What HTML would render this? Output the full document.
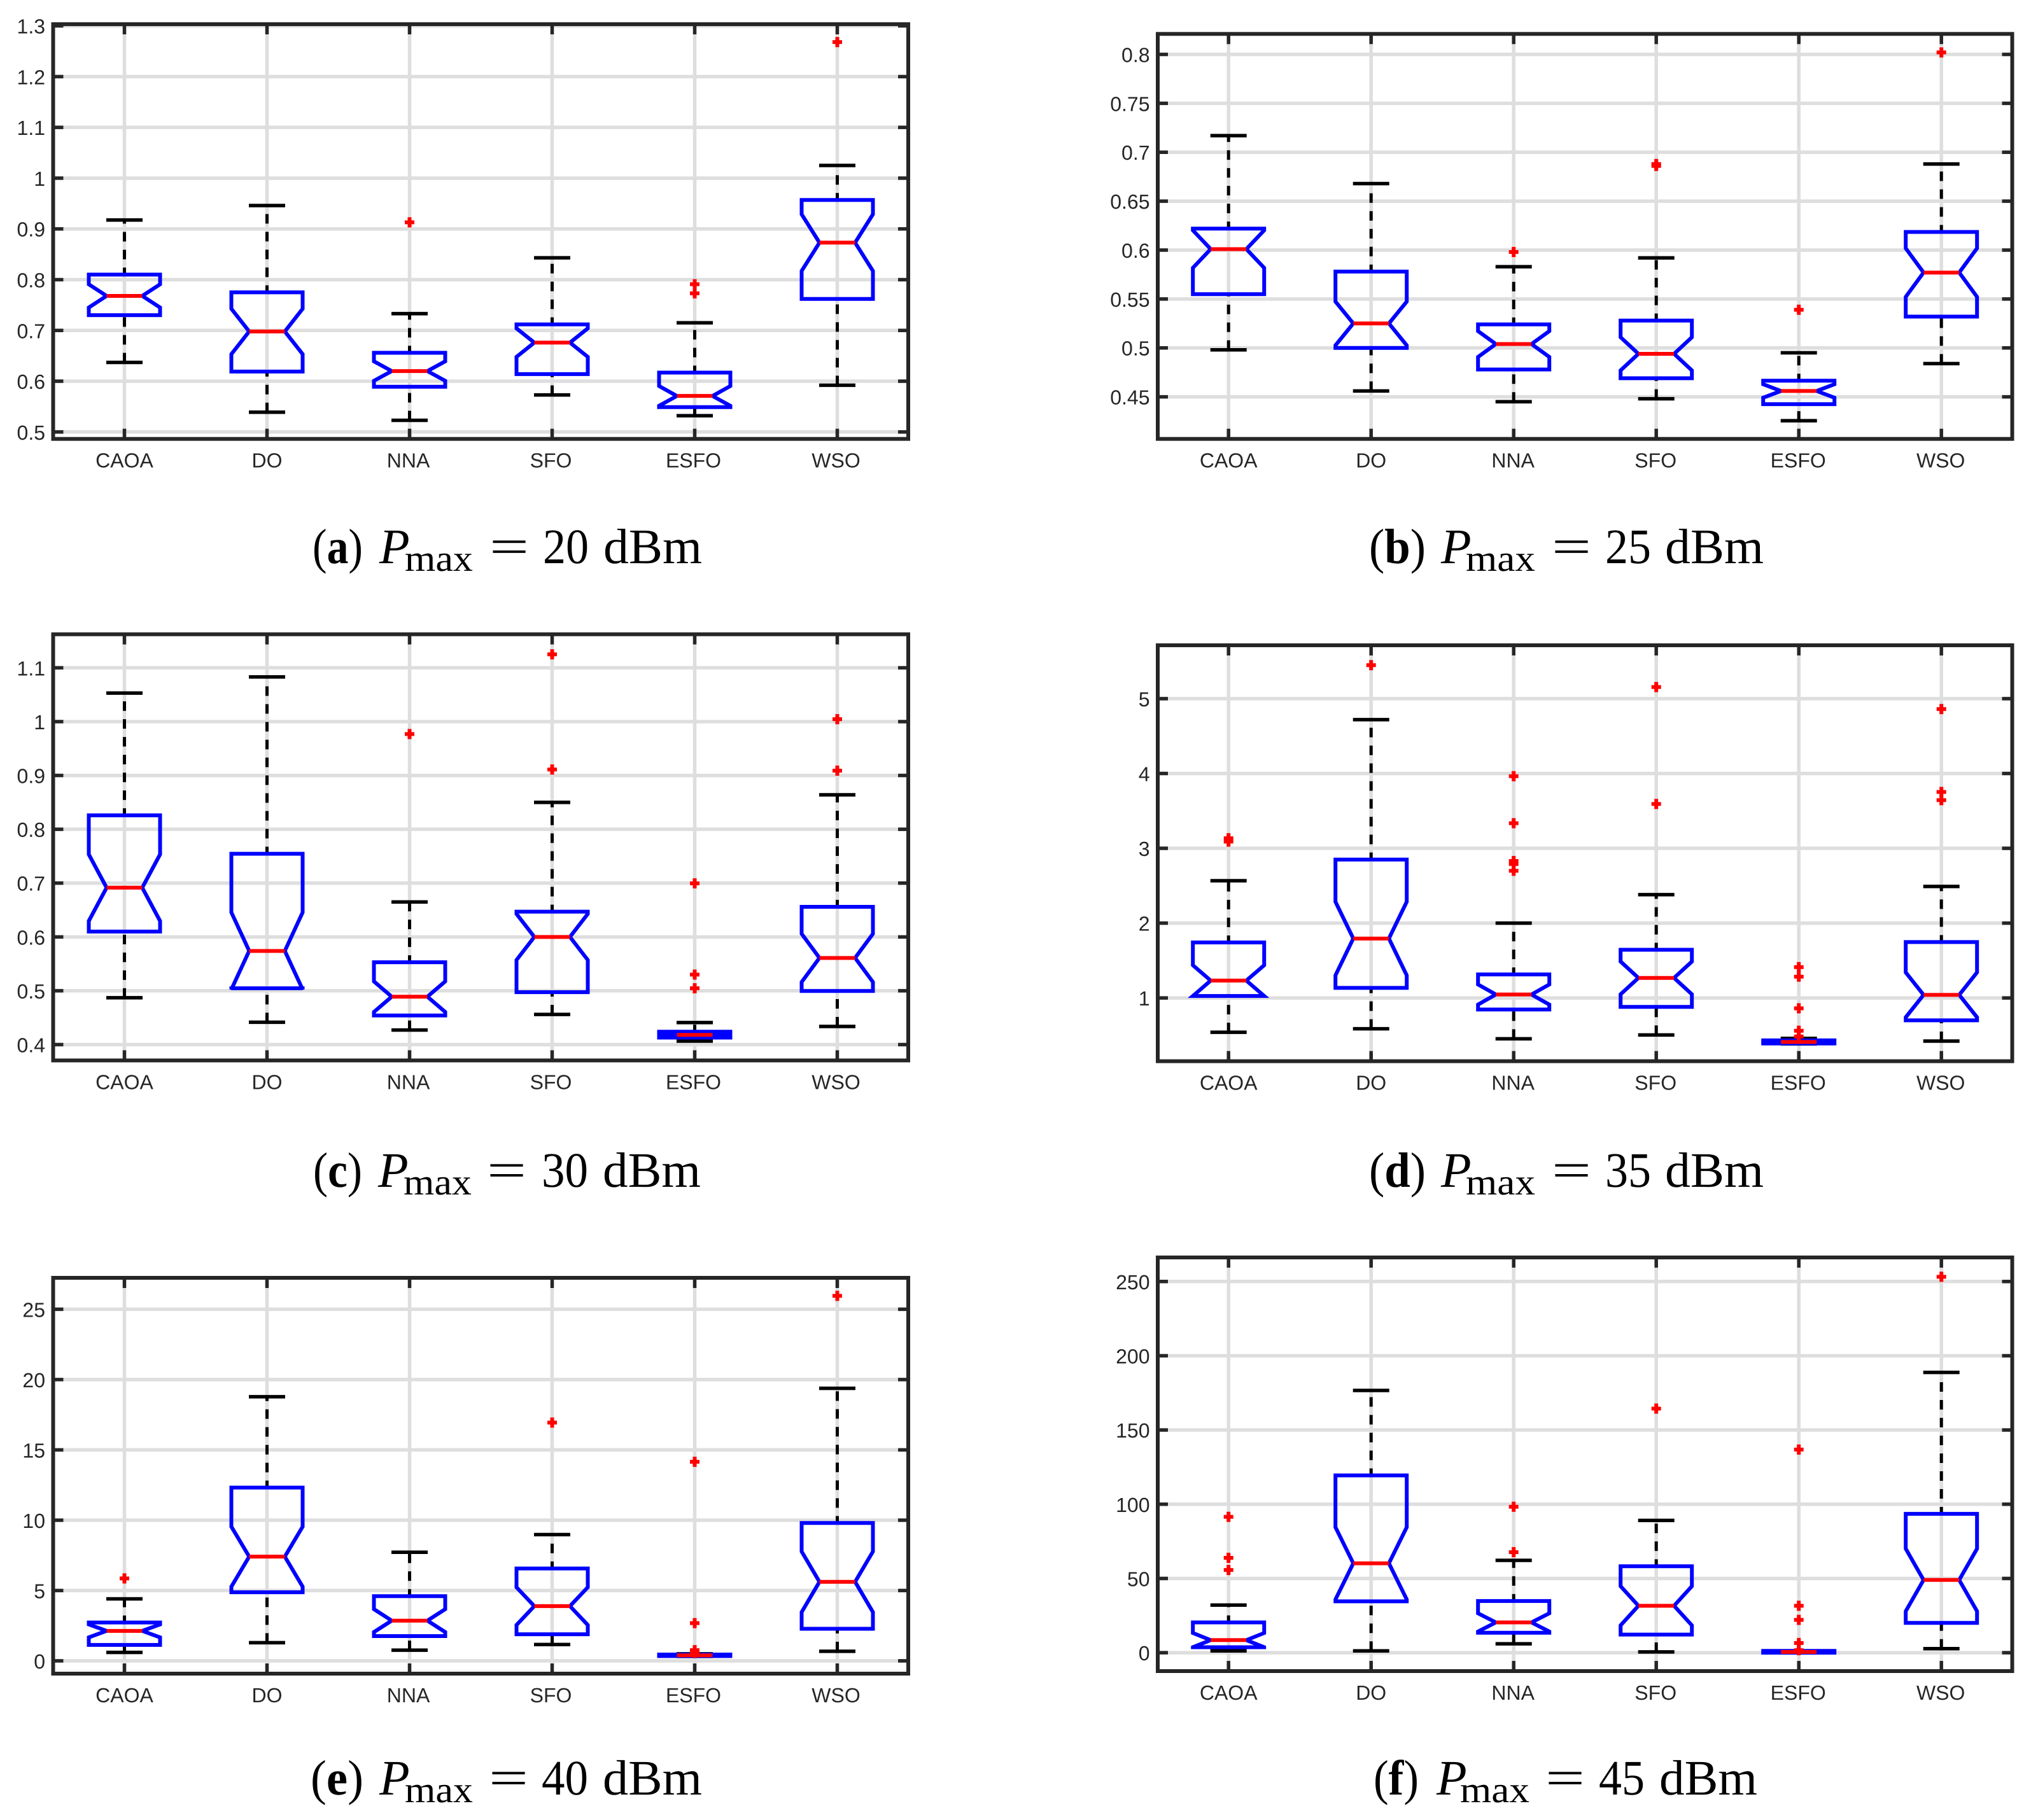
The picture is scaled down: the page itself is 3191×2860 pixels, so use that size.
<!DOCTYPE html>
<html lang="en">
<head>
<meta charset="utf-8">
<title>Notched box plots by transmit power</title>
<style>
html,body{margin:0;padding:0;background:#fff;}
svg{display:block;text-rendering:geometricPrecision;}
.tick{font-family:"Liberation Sans",sans-serif;font-size:32px;fill:#262626;}
.cap{font-family:"Liberation Serif",serif;font-size:78px;fill:#000;}
.sub{font-family:"Liberation Serif",serif;font-size:58px;fill:#000;}
</style>
</head>
<body>
<svg id="figure" xmlns="http://www.w3.org/2000/svg" width="3191" height="2860" viewBox="0 0 3191 2860">
<rect width="3191" height="2860" fill="#fff"/>
<g id="panels"></g>

<g>
<text class="cap" x="491" y="885" textLength="79" lengthAdjust="spacingAndGlyphs">(<tspan font-weight="bold">a</tspan>)</text>
<text class="cap" x="596" y="885" font-style="italic">P</text>
<text class="sub" x="636" y="897" textLength="107" lengthAdjust="spacingAndGlyphs">max</text>
<text class="cap" x="769" y="885" textLength="62" lengthAdjust="spacingAndGlyphs">=</text>
<text class="cap" x="853" y="885" textLength="72" lengthAdjust="spacingAndGlyphs">20</text>
<text class="cap" x="948" y="885" textLength="155" lengthAdjust="spacingAndGlyphs">dBm</text>
</g>
<g>
<text class="cap" x="2151" y="885" textLength="89" lengthAdjust="spacingAndGlyphs">(<tspan font-weight="bold">b</tspan>)</text>
<text class="cap" x="2264" y="885" font-style="italic">P</text>
<text class="sub" x="2303" y="897" textLength="109" lengthAdjust="spacingAndGlyphs">max</text>
<text class="cap" x="2438" y="885" textLength="62" lengthAdjust="spacingAndGlyphs">=</text>
<text class="cap" x="2522" y="885" textLength="72" lengthAdjust="spacingAndGlyphs">25</text>
<text class="cap" x="2616" y="885" textLength="155" lengthAdjust="spacingAndGlyphs">dBm</text>
</g>
<g>
<text class="cap" x="492" y="1865" textLength="77" lengthAdjust="spacingAndGlyphs">(<tspan font-weight="bold">c</tspan>)</text>
<text class="cap" x="594" y="1865" font-style="italic">P</text>
<text class="sub" x="634" y="1877" textLength="107" lengthAdjust="spacingAndGlyphs">max</text>
<text class="cap" x="765" y="1865" textLength="62" lengthAdjust="spacingAndGlyphs">=</text>
<text class="cap" x="851" y="1865" textLength="73" lengthAdjust="spacingAndGlyphs">30</text>
<text class="cap" x="947" y="1865" textLength="154" lengthAdjust="spacingAndGlyphs">dBm</text>
</g>
<g>
<text class="cap" x="2151" y="1865" textLength="89" lengthAdjust="spacingAndGlyphs">(<tspan font-weight="bold">d</tspan>)</text>
<text class="cap" x="2264" y="1865" font-style="italic">P</text>
<text class="sub" x="2303" y="1877" textLength="109" lengthAdjust="spacingAndGlyphs">max</text>
<text class="cap" x="2438" y="1865" textLength="62" lengthAdjust="spacingAndGlyphs">=</text>
<text class="cap" x="2522" y="1865" textLength="72" lengthAdjust="spacingAndGlyphs">35</text>
<text class="cap" x="2616" y="1865" textLength="155" lengthAdjust="spacingAndGlyphs">dBm</text>
</g>
<g>
<text class="cap" x="488" y="2820" textLength="83" lengthAdjust="spacingAndGlyphs">(<tspan font-weight="bold">e</tspan>)</text>
<text class="cap" x="596" y="2820" font-style="italic">P</text>
<text class="sub" x="636" y="2832" textLength="107" lengthAdjust="spacingAndGlyphs">max</text>
<text class="cap" x="768" y="2820" textLength="62" lengthAdjust="spacingAndGlyphs">=</text>
<text class="cap" x="851" y="2820" textLength="73" lengthAdjust="spacingAndGlyphs">40</text>
<text class="cap" x="947" y="2820" textLength="156" lengthAdjust="spacingAndGlyphs">dBm</text>
</g>
<g>
<text class="cap" x="2158" y="2820" textLength="71" lengthAdjust="spacingAndGlyphs">(<tspan font-weight="bold">f</tspan>)</text>
<text class="cap" x="2257" y="2820" font-style="italic">P</text>
<text class="sub" x="2294" y="2832" textLength="109" lengthAdjust="spacingAndGlyphs">max</text>
<text class="cap" x="2428" y="2820" textLength="62" lengthAdjust="spacingAndGlyphs">=</text>
<text class="cap" x="2512" y="2820" textLength="72" lengthAdjust="spacingAndGlyphs">45</text>
<text class="cap" x="2607" y="2820" textLength="154" lengthAdjust="spacingAndGlyphs">dBm</text>
</g>
</svg>
<script>
const categories = ['CAOA','DO','NNA','SFO','ESFO','WSO'];
const sampleCount = 30;

const yTicksA = [0.5,0.6,0.7,0.8,0.9,1,1.1,1.2,1.3];
const whiskerHighA = [0.9175,0.946,0.733,0.843,0.715,1.025];
const q3A = [0.810,0.775,0.656,0.712,0.617,0.957];
const medianA = [0.768,0.698,0.620,0.676,0.571,0.873];
const q1A = [0.730,0.619,0.589,0.614,0.549,0.762];
const whiskerLowA = [0.637,0.539,0.523,0.573,0.532,0.592];
const outliersA = [[],[],[0.913],[],[0.791,0.773],[1.268]];

const yTicksB = [0.45,0.5,0.55,0.6,0.65,0.7,0.75,0.8];
const whiskerHighB = [0.717,0.668,0.583,0.592,0.495,0.688];
const q3B = [0.622,0.578,0.524,0.528,0.4665,0.6185];
const medianB = [0.601,0.525,0.504,0.494,0.456,0.577];
const q1B = [0.555,0.500,0.478,0.469,0.4425,0.532];
const whiskerLowB = [0.498,0.456,0.445,0.448,0.4256,0.484];
const outliersB = [[],[],[0.598],[0.688,0.686],[0.539],[0.802]];

const yTicksC = [0.4,0.5,0.6,0.7,0.8,0.9,1,1.1];
const whiskerHighC = [1.053,1.083,0.665,0.850,0.441,0.864];
const q3C = [0.826,0.7546,0.553,0.647,0.424,0.656];
const medianC = [0.6915,0.574,0.489,0.600,0.418,0.561];
const q1C = [0.610,0.5046,0.454,0.4974,0.413,0.4996];
const whiskerLowC = [0.487,0.4415,0.427,0.456,0.4065,0.4337];
const outliersC = [[],[],[0.977],[1.125,0.911],[0.6995,0.530,0.5046],[1.0046,0.909]];

const yTicksD = [1,2,3,4,5];
const whiskerHighD = [2.567,4.72,2.0,2.381,0.459,2.49];
const q3D = [1.742,2.85,1.314,1.644,0.433,1.747];
const medianD = [1.232,1.794,1.046,1.268,0.412,1.041];
const q1D = [1.026,1.134,0.845,0.881,0.392,0.701];
const whiskerLowD = [0.541,0.588,0.454,0.505,0.386,0.423];
const outliersD = [[3.134,3.09],[5.448],[3.964,3.335,2.83,2.79,2.70],[5.155,3.593],[1.412,1.284,0.861,0.562,0.485],[4.861,3.753,3.644]];

const yTicksE = [0,5,10,15,20,25];
const whiskerHighE = [4.41,18.78,7.72,8.98,0.5,19.38];
const q3E = [2.73,12.32,4.60,6.57,0.45,9.80];
const medianE = [2.13,7.41,2.86,3.89,0.39,5.62];
const q1E = [1.13,4.88,1.76,1.89,0.34,2.28];
const whiskerLowE = [0.60,1.29,0.76,1.16,0.32,0.68];
const outliersE = [[5.86],[],[],[16.94],[14.15,2.68,0.76,0.58],[25.95]];

const yTicksF = [0,50,100,150,200,250];
const whiskerHighF = [32.1,176.6,62.2,89.1,0.8,188.8];
const q3F = [20.4,119.4,34.8,58.2,1.2,93.5];
const medianF = [8.5,60.2,20.4,31.6,0.5,49];
const q1F = [3.7,34.6,13.4,12.2,0,20.1];
const whiskerLowF = [1.2,1.2,6,0.5,0,2.7];
const outliersF = [[91.5,63.9,55.7],[],[98.3,67.7],[164.4],[136.8,31.6,22.1,6.5,1.7],[253.2]];

const SVG_NS = 'http://www.w3.org/2000/svg';
const root = document.getElementById('panels');

function node(parent, tag, attrs) {
  const el = document.createElementNS(SVG_NS, tag);
  for (const k in attrs) el.setAttribute(k, attrs[k]);
  parent.appendChild(el);
  return el;
}

function yScale(p) {
  return function (v) {
    return p.y0 + (v - p.v0) * (p.y1 - p.y0) / (p.v1 - p.v0);
  };
}

function xScale(p) {
  return function (i) {
    return p.x0 + i * 224;
  };
}

function drawPanel(p) {
  const y = yScale(p);
  const x = xScale(p);
  const g = node(root, 'g', {});
  
  

  p.yTicks.forEach(function (t) {
    const grid = node(g, 'line', {x1:p.left, x2:p.right, y1:y(t), y2:y(t), stroke:'#dedede', 'stroke-width':5.5});
    
    
  });
  categories.forEach(function (c, i) {
    const grid = node(g, 'line', {x1:x(i), x2:x(i), y1:p.top, y2:p.bottom, stroke:'#dedede', 'stroke-width':5.5});
    
    
  });

  p.yTicks.forEach(function (t) {
    const left = node(g, 'line', {x1:p.left, x2:p.left + 16, y1:y(t), y2:y(t), stroke:'#262626', 'stroke-width':5.5});
    
    
    const right = node(g, 'line', {x1:p.right - 16, x2:p.right, y1:y(t), y2:y(t), stroke:'#262626', 'stroke-width':5.5});
    
    
    const label = node(g, 'text', {x:p.left - 12.5, y:y(t) + 12, 'text-anchor':'end', class:'tick'});
    label.textContent = String(t);
    
    
  });
  categories.forEach(function (c, i) {
    const bottom = node(g, 'line', {x1:x(i), x2:x(i), y1:p.bottom - 16, y2:p.bottom, stroke:'#262626', 'stroke-width':5.5});
    
    
    const top = node(g, 'line', {x1:x(i), x2:x(i), y1:p.top, y2:p.top + 16, stroke:'#262626', 'stroke-width':5.5});
    
    
    const label = node(g, 'text', {x:x(i) - (i >= 2 ? p.labelShift : 0), y:p.bottom + 45, 'text-anchor':'middle', class:'tick'});
    label.textContent = c;
    
    
  });

  const frame = node(g, 'rect', {x:p.left, y:p.top, width:p.right - p.left, height:p.bottom - p.top, fill:'none', stroke:'#262626', 'stroke-width':6});
  
  

  categories.forEach(function (c, i) {
    const cx = x(i);
    const name = c.toLowerCase();
    const q3 = p.q3[i], q1 = p.q1[i], med = p.median[i];
    const notchHalf = 1.57 * (q3 - q1) / Math.sqrt(sampleCount);
    const upper = node(g, 'line', {x1:cx, x2:cx, y1:y(q3), y2:y(p.whiskerHigh[i]), stroke:'#000', 'stroke-width':5, 'stroke-dasharray':'15 13', 'stroke-dashoffset':4});
    
    
    const lower = node(g, 'line', {x1:cx, x2:cx, y1:y(p.whiskerLow[i]), y2:y(q1), stroke:'#000', 'stroke-width':5, 'stroke-dasharray':'15 13'});
    
    
    const capHigh = node(g, 'line', {x1:cx - 28.5, x2:cx + 28.5, y1:y(p.whiskerHigh[i]), y2:y(p.whiskerHigh[i]), stroke:'#000', 'stroke-width':5.5});
    
    
    const capLow = node(g, 'line', {x1:cx - 28.5, x2:cx + 28.5, y1:y(p.whiskerLow[i]), y2:y(p.whiskerLow[i]), stroke:'#000', 'stroke-width':5.5});
    
    

    const pts = [
      [cx - 56, q1], [cx - 56, med - notchHalf], [cx - 28, med], [cx - 56, med + notchHalf], [cx - 56, q3],
      [cx + 56, q3], [cx + 56, med + notchHalf], [cx + 28, med], [cx + 56, med - notchHalf], [cx + 56, q1]
    ].map(function (pt) { return pt[0].toFixed(1) + ',' + y(pt[1]).toFixed(1); }).join(' ');
    const box = node(g, 'polygon', {points:pts, fill:'none', stroke:'#0000ff', 'stroke-width':6, 'stroke-linejoin':'miter', 'stroke-miterlimit':3});
    
    

    const medLine = node(g, 'line', {x1:cx - 28, x2:cx + 28, y1:y(med), y2:y(med), stroke:'#ff0000', 'stroke-width':6});
    
    

    p.outliers[i].forEach(function (v) {
      const oy = y(v);
      const mark = node(g, 'path', {d:'M' + (cx - 7.5) + ' ' + oy + 'H' + (cx + 7.5) + 'M' + cx + ' ' + (oy - 8) + 'V' + (oy + 8), stroke:'#ff0000', 'stroke-width':6, fill:'none'});
      
      
    });
  });
}

const panels = [
  {id:'a', left:83.5, right:1427, top:38, bottom:689.7, x0:195.5, labelShift:2, v0:0.5, y0:678.8, v1:1.2, y1:120.4,
   yTicks:yTicksA, whiskerHigh:whiskerHighA, q3:q3A, median:medianA, q1:q1A, whiskerLow:whiskerLowA, outliers:outliersA},
  {id:'b', left:1819, right:3161.5, top:53.3, bottom:689.7, x0:1930.2, labelShift:1, v0:0.45, y0:623.6, v1:0.8, y1:85.5,
   yTicks:yTicksB, whiskerHigh:whiskerHighB, q3:q3B, median:medianB, q1:q1B, whiskerLow:whiskerLowB, outliers:outliersB},
  {id:'c', left:83.5, right:1427, top:996.7, bottom:1666.4, x0:195.5, labelShift:2, v0:0.4, y0:1641.5, v1:1.1, y1:1049.4,
   yTicks:yTicksC, whiskerHigh:whiskerHighC, q3:q3C, median:medianC, q1:q1C, whiskerLow:whiskerLowC, outliers:outliersC},
  {id:'d', left:1819, right:3161.5, top:1014, bottom:1667.6, x0:1930.2, labelShift:1, v0:1, y0:1568.2, v1:5, y1:1097.9,
   yTicks:yTicksD, whiskerHigh:whiskerHighD, q3:q3D, median:medianD, q1:q1D, whiskerLow:whiskerLowD, outliers:outliersD},
  {id:'e', left:83.5, right:1427, top:2008, bottom:2630, x0:195.5, labelShift:2, v0:0, y0:2609.9, v1:25, y1:2057.4,
   yTicks:yTicksE, whiskerHigh:whiskerHighE, q3:q3E, median:medianE, q1:q1E, whiskerLow:whiskerLowE, outliers:outliersE},
  {id:'f', left:1819, right:3161.5, top:1976, bottom:2626, x0:1930.2, labelShift:1, v0:0, y0:2597.1, v1:250, y1:2013.8,
   yTicks:yTicksF, whiskerHigh:whiskerHighF, q3:q3F, median:medianF, q1:q1F, whiskerLow:whiskerLowF, outliers:outliersF}
];

panels.forEach(drawPanel);
</script>
</body>
</html>
